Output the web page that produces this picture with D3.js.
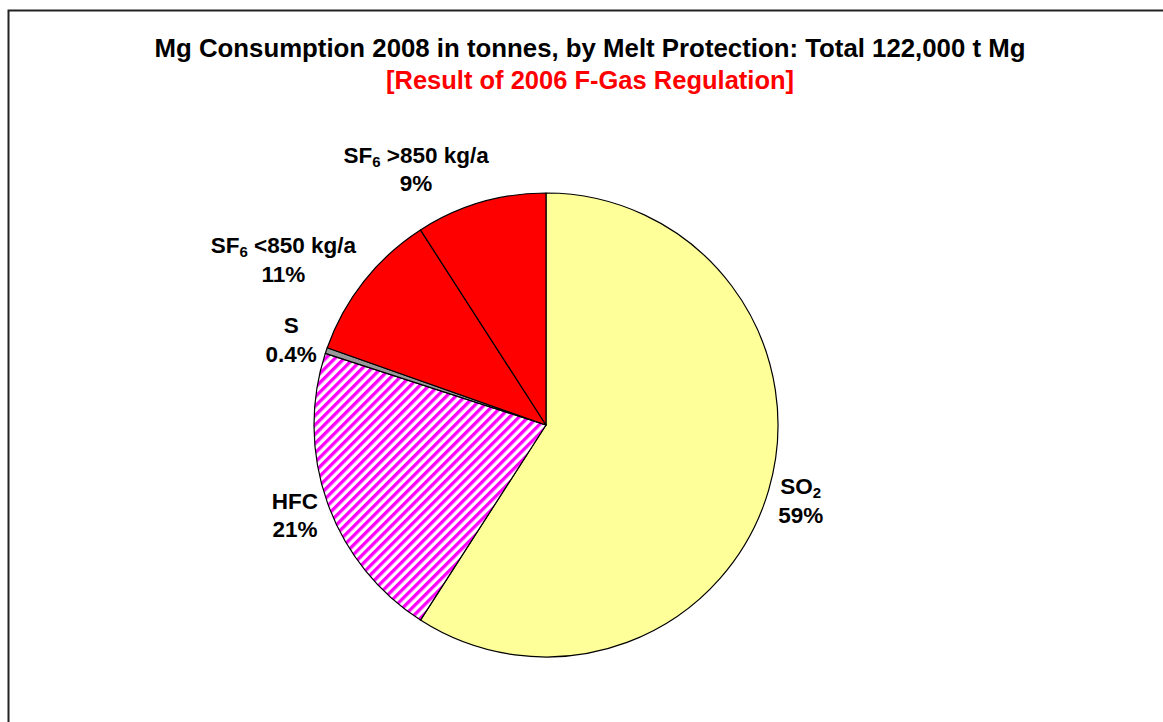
<!DOCTYPE html>
<html>
<head>
<meta charset="utf-8">
<script src="https://cdn.jsdelivr.net/npm/d3@7"></script>
<style>
  html, body { margin: 0; padding: 0; background: #fff; }
  svg { display: block; }
  text { font-family: "Liberation Sans", Arial, sans-serif; font-weight: bold; }
</style>
</head>
<body>
<svg id="chart" width="1163" height="722"></svg>
<script>
// ---- data ----
const categories = ["SO2", "HFC", "S", "SF6 <850 kg/a", "SF6 >850 kg/a"];
const labelMain  = ["SO", "HFC", "S", "SF", "SF"];
const labelSub   = ["2", "", "", "6", "6"];
const labelRest  = ["", "", "", " <850 kg/a", " >850 kg/a"];
const shares     = [59.1, 20.9, 0.4, 10.5, 9.1];      // % of 122,000 t Mg
const shareLabels = ["59%", "21%", "0.4%", "11%", "9%"];
const fills      = ["#FFFF99", "url(#hatch)", "#999999", "#FF0000", "#FF0000"];
const titleText  = "Mg Consumption 2008 in tonnes, by Melt Protection: Total 122,000 t Mg";
const subtitleText = "[Result of 2006 F-Gas Regulation]";

// ---- layout ----
const W = 1163, H = 722;
const cx = 546, cy = 425, R = 232;
const svg = d3.select("#chart");

const defs = svg.append("defs");
const P = 6.6;
const pat = defs.append("pattern")
  .attr("id", "hatch")
  .attr("patternUnits", "userSpaceOnUse")
  .attr("width", P).attr("height", P)
  .attr("patternTransform", "rotate(45)");
pat.append("rect").attr("width", P).attr("height", P).attr("fill", "#ffffff");
pat.append("rect").attr("width", P / 2).attr("height", P).attr("fill", "#FF00FF");

// frame
svg.append("rect")
  .attr("x", 8.5).attr("y", 10.5)
  .attr("width", W + 20).attr("height", H + 20)
  .attr("fill", "none").attr("stroke", "#222").attr("stroke-width", 2);

// titles
svg.append("text").attr("x", 590).attr("y", 57)
  .attr("text-anchor", "middle").attr("font-size", 25.8).attr("fill", "#000")
  .text(titleText);
svg.append("text").attr("x", 590).attr("y", 89)
  .attr("text-anchor", "middle").attr("font-size", 25.5).attr("fill", "#FF0000")
  .text(subtitleText);

// pie
const pie = d3.pie().sort(null).value(d => d).startAngle(0).endAngle(2 * Math.PI);
const arcs = pie(shares);
const arc = d3.arc().innerRadius(0).outerRadius(R);

const g = svg.append("g").attr("transform", `translate(${cx},${cy})`);
g.selectAll("path.slice").data(arcs).join("path")
  .attr("class", "slice")
  .attr("d", arc)
  .attr("fill", (d, i) => fills[i])
  .attr("stroke", "#000")
  .attr("stroke-width", 1.2)
  .attr("stroke-linejoin", "round");

// labels
const fontSize = 22.5, lineGap = 28.5, gap = 10, blockH = 50;
arcs.forEach((d, i) => {
  const mid = (d.startAngle + d.endAngle) / 2;
  const s = Math.sin(mid), c = Math.cos(mid);
  const t = g.append("text").attr("text-anchor", "middle").attr("font-size", fontSize).attr("fill", "#000");
  const l1 = t.append("tspan").attr("x", 0).attr("y", 0);
  l1.append("tspan").text(labelMain[i]);
  if (labelSub[i]) {
    l1.append("tspan").attr("font-size", 15).attr("dy", 4).text(labelSub[i]);
    if (labelRest[i]) l1.append("tspan").attr("dy", -4).text(labelRest[i]);
  }
  t.append("tspan").attr("x", 0).attr("y", lineGap).text(shareLabels[i]);
  const w = t.node().getBBox().width;
  const ax = (R + gap) * s, ay = -(R + gap) * c;
  const k = Math.max(-1, Math.min(1, s * 3));
  const bx = ax + k * w / 2;
  const by = ay - c * blockH / 2;
  const capH = fontSize * 0.72;
  const top = by - (capH + lineGap) / 2;
  t.attr("transform", `translate(${bx},${top + capH})`);
});
</script>
</body>
</html>
